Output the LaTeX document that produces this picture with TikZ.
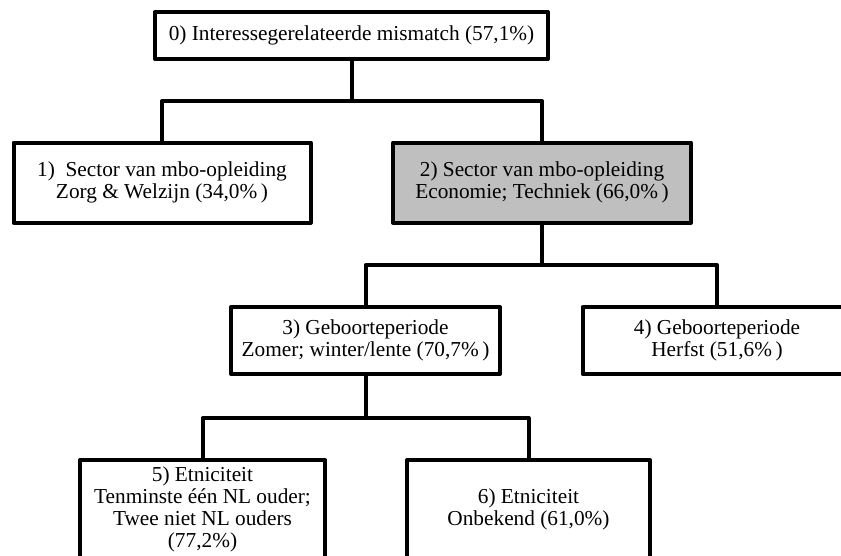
\documentclass[tikz,border=0pt]{standalone}
\usepackage{fontspec}
\setmainfont{Liberation Serif}

\begin{document}
\begin{tikzpicture}[x=1pt,y=-1pt,
    treebox/.style={rectangle, draw, line width=4pt, line join=round, fill=white, inner sep=0pt, align=center, font=\fontsize{21.3}{22}\selectfont},
    splitbox/.style={treebox, fill=black!25},
    conn/.style={line width=4pt, line join=round}]

\clip (0,0) rectangle (841,555);

% top split
\node [treebox, minimum width=393pt, minimum height=47pt] (mismatch) at (351.5,35.5) {0) Interessegerelateerde mismatch (57,1\%)};

\node [treebox, minimum width=297pt, minimum height=80pt] (sector_zw) at (162,182.5) {1)\ \ Sector van mbo-opleiding\\Zorg \& Welzijn (34,0\%\,)};
\node [splitbox, minimum width=298pt, minimum height=80pt] (sector_et) at (542,182.5) {2) Sector van mbo-opleiding\\Economie; Techniek (66,0\%\,)};

% second level
\node [treebox, minimum width=269pt, minimum height=67pt] (geb_zwl) at (365.5,340.5) {3) Geboorteperiode\\Zomer; winter/lente (70,7\%\,)};
\node [treebox, minimum width=269pt, minimum height=67pt] (geb_herfst) at (717,340.5) {4) Geboorteperiode\\Herfst (51,6\%\,)};

% third level
\node [treebox, minimum width=245pt, minimum height=99pt] (etn_nl) at (202.5,509.5) {5) Etniciteit\\Tenminste één NL ouder;\\Twee niet NL ouders\\(77,2\%)};
\node [treebox, minimum width=243pt, minimum height=99pt] (etn_onb) at (528.5,509.5) {6) Etniciteit\\Onbekend (61,0\%)};

\coordinate (fork_0) at (351.5,101);
\coordinate (fork_2) at (542,265);
\coordinate (fork_3) at (365.5,418);

\draw [conn] (mismatch) -- (fork_0) -| (sector_zw);
\draw [conn] (fork_0) -| (sector_et);
\draw [conn] (sector_et) -- (fork_2) -| (geb_zwl);
\draw [conn] (fork_2) -| (geb_herfst);
\draw [conn] (geb_zwl) -- (fork_3) -| (etn_nl);
\draw [conn] (fork_3) -| (etn_onb);

\end{tikzpicture}
\end{document}
